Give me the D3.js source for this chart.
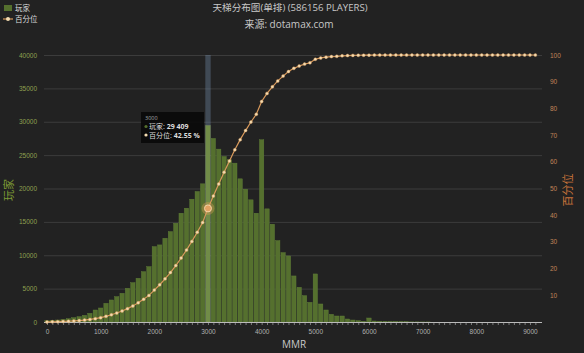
<!DOCTYPE html>
<html><head><meta charset="utf-8">
<script src="https://cdn.jsdelivr.net/npm/d3@7"></script>
<style>
html,body{margin:0;padding:0;background:#222222;}
svg{display:block;font-family:"Open Sans","Noto Sans CJK SC",sans-serif;}
</style></head>
<body>
<svg id="c" width="584" height="353"></svg>
<script>
// ---- data ----
const mmr = d3.range(0, 9200, 100);
const players = [200,250,300,400,500,650,800,1000,1300,1800,
 2100,2800,3300,3800,4300,5050,5900,6550,7550,8300,
 11300,11550,12550,13550,14800,16300,17050,18400,19550,20700,
 29409,27500,25900,24800,24300,23800,21450,19900,18300,16300,
 27300,16950,14650,12200,10400,9900,6900,5200,3950,2950,
 7200,2700,1800,1150,900,900,450,300,200,100,
 600,150,100,80,60,50,40,30,20,20,
 10,10,0,0,0,0,0,0,0,0,0,0,0,0,0,0,0,0,0,0,0,0];
const percentile = [0.04,0.08,0.13,0.2,0.29,0.4,0.54,0.72,0.95,1.26,
 1.63,2.12,2.7,3.36,4.12,5.0,6.03,7.18,8.5,9.96,
 11.94,13.96,16.16,18.53,21.12,23.98,26.96,30.18,33.61,37.23,
 42.55,47.2,51.7,56.1,60.3,64.5,68.3,71.7,74.9,77.8,
 82.6,85.6,88.1,90.3,92.1,93.8,95.0,95.9,96.6,97.1,
 98.4,98.9,99.2,99.4,99.5,99.7,99.8,99.85,99.9,99.92,
 99.95,99.96,99.97,99.98,99.98,99.99,99.99,99.99,100,100,
 100,100,100,100,100,100,100,100,100,100,100,100,100,100,100,100,100,100,100,100,100,100];
const leftTicks = [0,5000,10000,15000,20000,25000,30000,35000,40000];
const rightTicks = [10,20,30,40,50,60,70,80,90,100];
const xLabels = [0,1000,2000,3000,4000,5000,6000,7000,8000,9000];
const title = "天梯分布图(单排) (586156 PLAYERS)";
const subtitle = "来源: dotamax.com";
const hoverIndex = 30;

// ---- scales ----
const svg = d3.select("#c");
const x = d3.scaleLinear().domain([-50, 9250]).range([44.3, 543.4]);
const yL = d3.scaleLinear().domain([0, 40000]).range([322, 55]);
const yR = d3.scaleLinear().domain([0, 100]).range([322, 55]);
const bw = x(100) - x(0);

// grid
svg.append("g").selectAll("line").data(leftTicks.slice(1)).join("line")
  .attr("x1", 44).attr("x2", 542)
  .attr("y1", d => yL(d)+0.5).attr("y2", d => yL(d)+0.5)
  .attr("stroke", "#3c3c3c").attr("stroke-width", 1);

// hover band
svg.append("rect")
  .attr("x", x(mmr[hoverIndex]) - bw/2).attr("width", bw)
  .attr("y", 55).attr("height", 322-55)
  .attr("fill", "rgba(120,150,180,0.35)");

// bars
svg.append("g").selectAll("rect").data(players).join("rect")
  .attr("x", (d,i) => x(mmr[i]) - bw/2 + 0.5)
  .attr("width", bw - 1)
  .attr("y", d => yL(d))
  .attr("height", d => 322 - yL(d))
  .attr("fill", (d,i) => i === hoverIndex ? "#718c48" : "#55702e")
  .attr("stroke", (d,i) => i === hoverIndex ? "#8aa35d" : "#62803a")
  .attr("stroke-width", 0.4);

// x axis
const xAxis = d3.axisBottom(x).tickValues(mmr).tickSize(3)
  .tickFormat(d => xLabels.includes(d) ? d : "");
const gx = svg.append("g").attr("transform", "translate(0,322)").call(xAxis);
gx.select(".domain").attr("stroke", "#bbbbbb").attr("d", "M44,0.5H542");
gx.selectAll(".tick line").attr("stroke", "#bbbbbb").attr("stroke-width", 0.6);
gx.selectAll(".tick text").attr("fill", "#b0b0b0").attr("font-size", 6.5).attr("dy", "0.9em");

// left axis
const gl = svg.append("g").attr("transform", "translate(40,0)")
  .call(d3.axisLeft(yL).tickValues(leftTicks).tickSize(0).tickFormat(d => d));
gl.select(".domain").remove();
gl.selectAll("text").attr("fill", "#8fa050").attr("font-size", 6.5);

// right axis
const gr = svg.append("g").attr("transform", "translate(547,0)")
  .call(d3.axisRight(yR).tickValues(rightTicks).tickSize(0));
gr.select(".domain").remove();
gr.selectAll("text").attr("fill", "#c08558").attr("font-size", 6.5);

// percentile line
const line = d3.line().x((d,i) => x(mmr[i])).y(d => yR(d));
svg.append("path").datum(percentile).attr("d", line)
  .attr("fill", "none").attr("stroke", "#d99a5c").attr("stroke-width", 1.2);
svg.append("g").selectAll("circle").data(percentile).join("circle")
  .attr("cx", (d,i) => x(mmr[i])).attr("cy", d => yR(d)).attr("r", 1.5)
  .attr("fill", "#f3dcb2").attr("stroke", "#d99a5c").attr("stroke-width", 0.4);
// hovered point
svg.append("circle").attr("cx", x(mmr[hoverIndex])).attr("cy", yR(percentile[hoverIndex]))
  .attr("r", 6.5).attr("fill", "rgba(230,160,90,0.35)");
svg.append("circle").attr("cx", x(mmr[hoverIndex])).attr("cy", yR(percentile[hoverIndex]))
  .attr("r", 3.5).attr("fill", "#e2a262").attr("stroke", "#f5d4a4").attr("stroke-width", 1);

// titles
svg.append("text").attr("x", 290).attr("y", 11).attr("text-anchor", "middle")
  .attr("fill", "#c8c8c8").attr("font-size", 9.6).text(title);
svg.append("text").attr("x", 289).attr("y", 28).attr("text-anchor", "middle")
  .attr("fill", "#c8c8c8").attr("font-size", 10).text(subtitle);
svg.append("text").attr("x", 294).attr("y", 348).attr("text-anchor", "middle")
  .attr("fill", "#c8c8c8").attr("font-size", 10).text("MMR");
svg.append("text").attr("transform", "translate(13,190) rotate(-90)").attr("text-anchor", "middle")
  .attr("fill", "#7c9a35").attr("font-size", 11).text("玩家");
svg.append("text").attr("transform", "translate(572,190) rotate(-90)").attr("text-anchor", "middle")
  .attr("fill", "#c8733a").attr("font-size", 11).text("百分位");

// legend
svg.append("rect").attr("x", 4).attr("y", 5).attr("width", 8).attr("height", 6).attr("fill", "#55702e");
svg.append("text").attr("x", 15).attr("y", 11).attr("fill", "#dddddd").attr("font-size", 7.5).text("玩家");
svg.append("line").attr("x1", 3).attr("x2", 13).attr("y1", 19).attr("y2", 19).attr("stroke", "#d99a5c").attr("stroke-width", 1.2);
svg.append("circle").attr("cx", 8).attr("cy", 19).attr("r", 2).attr("fill", "#f3dcb2");
svg.append("text").attr("x", 15).attr("y", 21.5).attr("fill", "#dddddd").attr("font-size", 7.5).text("百分位");

// tooltip
const tt = svg.append("g").attr("transform", "translate(141,112)");
tt.append("rect").attr("width", 63).attr("height", 31).attr("fill", "rgba(8,8,8,0.88)");
tt.append("text").attr("x", 4).attr("y", 7.5).attr("fill", "#aaaaaa").attr("font-size", 5.5).text(mmr[hoverIndex]);
tt.append("circle").attr("cx", 5).attr("cy", 14.5).attr("r", 1.6).attr("fill", "#55702e");
tt.append("text").attr("x", 8).attr("y", 17).attr("fill", "#dddddd").attr("font-size", 7)
  .html('玩家: <tspan font-weight="bold">' + d3.format(",")(players[hoverIndex]).replace(",", " ") + '</tspan>');
tt.append("circle").attr("cx", 5).attr("cy", 23).attr("r", 1.6).attr("fill", "#f3dcb2");
tt.append("text").attr("x", 8).attr("y", 25.5).attr("fill", "#dddddd").attr("font-size", 7)
  .html('百分位: <tspan font-weight="bold">' + percentile[hoverIndex].toFixed(2) + ' %</tspan>');
</script>
</body></html>
